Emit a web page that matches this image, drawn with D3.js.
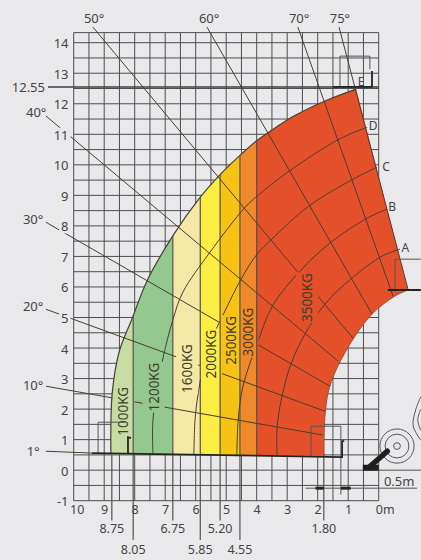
<!DOCTYPE html>
<html><head><meta charset="utf-8">
<script src="https://cdnjs.cloudflare.com/ajax/libs/d3/7.8.5/d3.min.js"></script>
<style>
html,body{margin:0;padding:0;background:#e9e9ec;overflow:hidden}
svg{display:block}
text{font-family:"Noto Sans",sans-serif;font-size:13px;fill:#444442}
</style></head><body>
<svg id="c" width="421" height="560"></svg>
<script>
// all values in metres: [reach, height]
const xTicks=[10,9,8,7,6,5,4,3,2,1,0];
const yTicks=[14,13,12,11,10,9,8,7,6,5,4,3,2,1,0,-1];
const zoneEdges=[8.85,8.05,6.75,5.85,5.20,4.55,4.0,-1.2];
const zoneNames=["1000KG","1200KG","1600KG","2000KG","2500KG","3000KG","3500KG"];
const zoneLabelPos=[[8.37,0.0],[7.38,0],[6.28,0],[5.5,0],[4.85,0],[4.3,0],[2.34,0]];
const zoneLabelHeight=[1.93,2.72,3.33,3.8,4.25,4.52,5.65];
const outer=[[8.78,.52],[8.74,2.49],[8.51,3.87],[8.09,4.95],[7.6,6.19],[6.74,7.69],[5.85,8.94],[5.2,9.68],[4.55,10.31],[3.99,10.8],[3.63,11.05],[2.81,11.58],[1.76,12.09],[.74,12.48]];
const inner=[[-.96,5.9],[-.53,5.7],[.22,5.11],[1.04,3.96],[1.6,2.75],[1.76,1.77],[1.79,.46]];
const arcA=[[-.70,7.24],[-.11,7.01],[.88,6.29],[1.76,5.44],[2.42,4.45],[2.88,3.47],[3.17,2.42],[3.33,1.41],[3.33,.46]];
const arcB=[[-.27,8.55],[.38,8.25],[1.56,7.47],[2.58,6.52],[3.47,5.40],[3.99,4.13],[4.45,2.75],[4.61,1.6],[4.65,.46]];
const arcC=[[.06,9.92],[.84,9.53],[2.29,8.65],[3.5,7.57],[3.99,7.07],[4.51,6.26],[5.2,4.88],[5.63,3.96],[5.92,2.49],[6.02,1.67],[6.06,.49]];
const arcD=[[.38,11.23],[1.3,10.84],[2.94,9.79],[3.99,8.97],[4.38,8.61],[5.53,7.14],[6.42,5.83],[6.74,4.95],[7.1,3.54],[7.4,1.67],[7.4,.52]];
const angleNames=["1°","10°","20°","30°","40°","50°","60°","70°","75°"];
const angleLabelPos=[[11.33,.62],[11.33,2.78],[11.33,5.37],[11.33,8.22],[11.23,11.73],[9.33,14.8],[5.56,14.8],[2.61,14.8],[1.27,14.8]];
const angleLines=[[[10.91,.62],[9.4,.56]],[[10.91,2.75],[1.83,1.15]],[[10.91,5.27],[1.76,1.93]],[[10.91,8.12],[1.6,2.75]],[[10.91,11.6],[1.33,3.57]],[[9.37,14.51],[.84,4.32]],[[5.63,14.51],[.22,5.11]],[[2.65,14.51],[-.47,5.7]],[[1.3,14.51],[-.96,5.93]]];
const dims=[8.75,8.05,6.75,5.85,5.20,4.55,1.80];
const dimNames=["8.75","8.05","6.75","5.85","5.20","4.55","1.80"];
const dimLow=[-1.65,-2.29,-1.65,-2.29,-1.65,-2.29,-1.65];
const letters=["A","B","C","D","E"];
const letterPos=[[-.87,7.3],[-.44,8.65],[-.24,9.95],[.18,11.28],[.58,12.74]];
const maxHeight=12.55;
const boxes=[[[9.2,.55],[9.2,1.57],[8.3,1.57]],[[2.22,.45],[2.22,1.44],[1.24,1.44],[1.24,-.8]],[[1.27,12.55],[1.27,13.56],[.29,13.56],[.29,13.13]],[[-.54,5.9],[-.54,6.91],[-1.38,6.91]]];
const thick=[[[9.4,.56],[1.2,.43],[1.2,.95],[1.13,.95]],[[8.22,.56],[8.22,1.08],[8.12,1.05]],[[1.5,12.55],[.22,12.55],[.22,13.07]],[[-.3,5.9],[-1.38,5.9]]];
const dimLine=[[2.4,-.59],[-1.26,-.59]];
const dimArrows=[[[2.07,-.59],[1.8,-.59]],[[1.24,-.59],[.92,-.59]]];
const wheel=[-.6,.79];
const wheelR=[.11,.39,.56];
const arm=[[-.28,.62],[.28,.13]];
const armBase=[[.52,.08],[0,.08]];
const bodyA=[[-1.38,2.4],[-1.22,2.0],[-1.13,1.45],[-1.38,.98]];
const bodyB=[[-1.38,2.0],[-1.28,1.65],[-1.38,1.3]];

const svg=d3.select("#c");
const x=d3.scaleLinear().domain([10,0]).range([73.7,378.7]);
const y=d3.scaleLinear().domain([14,-1]).range([42.7,500.7]);
const yTop=14.33;
const C="#4e4e4e";
const path=d3.line().x(d=>x(d[0])).y(d=>y(d[1]));
const curve=d3.line().x(d=>x(d[0])).y(d=>y(d[1])).curve(d3.curveCatmullRom.alpha(.5));

// grid
const g=svg.append("g").attr("stroke",C).attr("stroke-width",1).attr("fill","none");
d3.range(0,21).forEach(i=>g.append("line").attr("x1",x(i/2)).attr("x2",x(i/2)).attr("y1",y(yTop)).attr("y2",y(-1)));
d3.range(-2,29).forEach(i=>g.append("line").attr("x1",x(10)).attr("x2",x(0)).attr("y1",y(i/2)).attr("y2",y(i/2)));
g.append("line").attr("x1",x(10)).attr("x2",x(0)).attr("y1",y(yTop)).attr("y2",y(yTop));
g.append("line").attr("x1",x(0)).attr("x2",421).attr("y1",y(0)).attr("y2",y(0));
// 12.55 level
svg.append("line").attr("x1",48).attr("x2",x(0)).attr("y1",y(maxHeight)).attr("y2",y(maxHeight)).attr("stroke","#3c3c3c").attr("stroke-width",1.4);

// zones
const regionD=curve(outer)+curve(inner).replace(/^M/,"L")+"Z";
svg.append("clipPath").attr("id","reg").append("path").attr("d",regionD);
const zoneColors=["#c6dca3","#93c98f","#f3e8a6","#fced45","#f6c315","#ee8a2a","#e4502a"];
const zg=svg.append("g").attr("clip-path","url(#reg)");
zoneNames.forEach((n,i)=>zg.append("rect").attr("x",x(zoneEdges[i])).attr("width",x(zoneEdges[i+1])-x(zoneEdges[i])).attr("y",y(13)).attr("height",y(.48)-y(13)).attr("fill",zoneColors[i]));
svg.append("path").attr("d",curve(outer)).attr("fill","none").attr("stroke","#4a4032").attr("stroke-width",1.2);
svg.append("path").attr("d",curve(inner)).attr("fill","none").attr("stroke","#8a4a30").attr("stroke-width",.8);

// zone edges and dimension leaders
const dg=svg.append("g").attr("stroke","#55524a").attr("stroke-width",1.2);
[8.05,6.75,5.85,5.20,4.55,4.0].forEach(v=>{
  const top=outer.reduce((a,b,i)=>{const c=outer[i+1];return c&&b[0]>=v&&c[0]<v?b[1]+(c[1]-b[1])*(b[0]-v)/(b[0]-c[0]):a;},0);
  dg.append("line").attr("x1",x(v)).attr("x2",x(v)).attr("y1",y(top)).attr("y2",y(.5));
});
dims.forEach((v,i)=>dg.append("line").attr("x1",x(v)).attr("x2",x(v)).attr("y1",y(.5)).attr("y2",y(dimLow[i])));
// labels first, so the mask can read their boxes
const labels=svg.append("g").attr("id","labels");
const lab=zoneNames.map((n,i)=>{
  const px=x(zoneLabelPos[i][0]),py=y(zoneLabelHeight[i]);
  return labels.append("text").text(n).attr("text-anchor","middle").attr("dominant-baseline","central").attr("transform",`translate(${px},${py}) rotate(-90)`).style("fill","#3e3e2a").style("font-size","13.5px");
});
const xAxis=svg.append("g").attr("transform",`translate(0,${y(-1.3)})`).call(d3.axisBottom(x).tickValues(xTicks).tickSize(0).tickFormat(d=>d===0?"0m":d));
xAxis.select(".domain").remove();
xAxis.selectAll("text").attr("dy",0).attr("y",0).attr("dominant-baseline","central").attr("dx",d=>d===0?6:d===10?3:0).style("font-size","12.5px").style("font-family",'"Noto Sans",sans-serif');
const yAxis=svg.append("g").attr("transform","translate(68.5,0)").call(d3.axisLeft(y).tickValues(yTicks).tickSize(0).tickPadding(0).tickFormat(d=>d));
yAxis.select(".domain").remove();
yAxis.selectAll("text").attr("dy",0).attr("x",0).attr("dominant-baseline","central").style("font-size","13px").style("font-family",'"Noto Sans",sans-serif');
svg.selectAll("g text").style("fill",function(){return this.parentNode.id==="labels"?"#3e3e2a":"#444442";});
svg.append("text").text("12.55").attr("x",45).attr("y",y(maxHeight)).attr("text-anchor","end").attr("dominant-baseline","central");
angleNames.forEach((n,i)=>svg.append("text").text(n).attr("x",x(angleLabelPos[i][0])).attr("y",y(angleLabelPos[i][1])).attr("text-anchor","middle").attr("dominant-baseline","central"));
dimNames.forEach((n,i)=>svg.append("text").text(n).attr("x",x(dims[i])).attr("y",y(dimLow[i])+(i%2?9:8)).attr("text-anchor","middle").attr("dominant-baseline","central").style("font-size","12.5px"));
letters.forEach((n,i)=>svg.append("text").text(n).attr("x",x(letterPos[i][0])).attr("y",y(letterPos[i][1])).attr("text-anchor","middle").attr("dominant-baseline","central").style("font-size","12px"));
svg.append("text").text("0.5m").attr("x",x(-.67)).attr("y",y(-.36)).attr("text-anchor","middle").attr("dominant-baseline","central");

// mask: lines break around labels
const mask=svg.append("mask").attr("id","gap").attr("maskUnits","userSpaceOnUse").attr("x",0).attr("y",0).attr("width",421).attr("height",560);
mask.append("rect").attr("width",421).attr("height",560).attr("fill","#fff");
lab.forEach(t=>{const b=t.node().getBoundingClientRect();mask.append("rect").attr("x",b.left-2).attr("y",b.top-1).attr("width",b.width+4).attr("height",b.height+2).attr("fill","#000");});
yAxis.selectAll("text").each(function(){const b=this.getBoundingClientRect();mask.append("rect").attr("x",b.left-2).attr("y",b.top+2).attr("width",b.width+4).attr("height",b.height-4).attr("fill","#000");});

// angle lines and radius arcs
const rg=svg.append("g").attr("mask","url(#gap)").attr("fill","none").attr("stroke","#4a3c30").attr("stroke-width",1);
angleLines.forEach(l=>rg.append("path").attr("d",path(l)));
[arcA,arcB,arcC,arcD].forEach(a=>rg.append("path").attr("d",curve(a)));

// bracket boxes
const bg=svg.append("g").attr("fill","none").attr("stroke","#555").attr("stroke-width",1);
boxes.forEach(l=>bg.append("path").attr("d",path(l)));
bg.append("line").attr("x1",x(dimLine[0][0])).attr("x2",x(dimLine[1][0])).attr("y1",y(dimLine[0][1])).attr("y2",y(dimLine[1][1]));
const tg=svg.append("g").attr("fill","none").attr("stroke","#232323").attr("stroke-width",1.8);
thick.forEach(l=>tg.append("path").attr("d",path(l)));
dimArrows.forEach(l=>tg.append("path").attr("d",path(l)).attr("stroke-width",3));

// machine
const mg=svg.append("g").attr("fill","none").attr("stroke","#555").attr("stroke-width",1);
wheelR.forEach(r=>mg.append("circle").attr("cx",x(wheel[0])).attr("cy",y(wheel[1])).attr("r",(x(0)-x(r))));
[bodyA,bodyB].forEach(l=>mg.append("path").attr("d",curve(l)));
svg.append("path").attr("d",path(arm)).attr("stroke","#1e1e1e").attr("stroke-width",5.5).attr("stroke-linecap","round");
svg.append("path").attr("d",path(armBase)).attr("stroke","#1e1e1e").attr("stroke-width",6);
</script></body></html>
